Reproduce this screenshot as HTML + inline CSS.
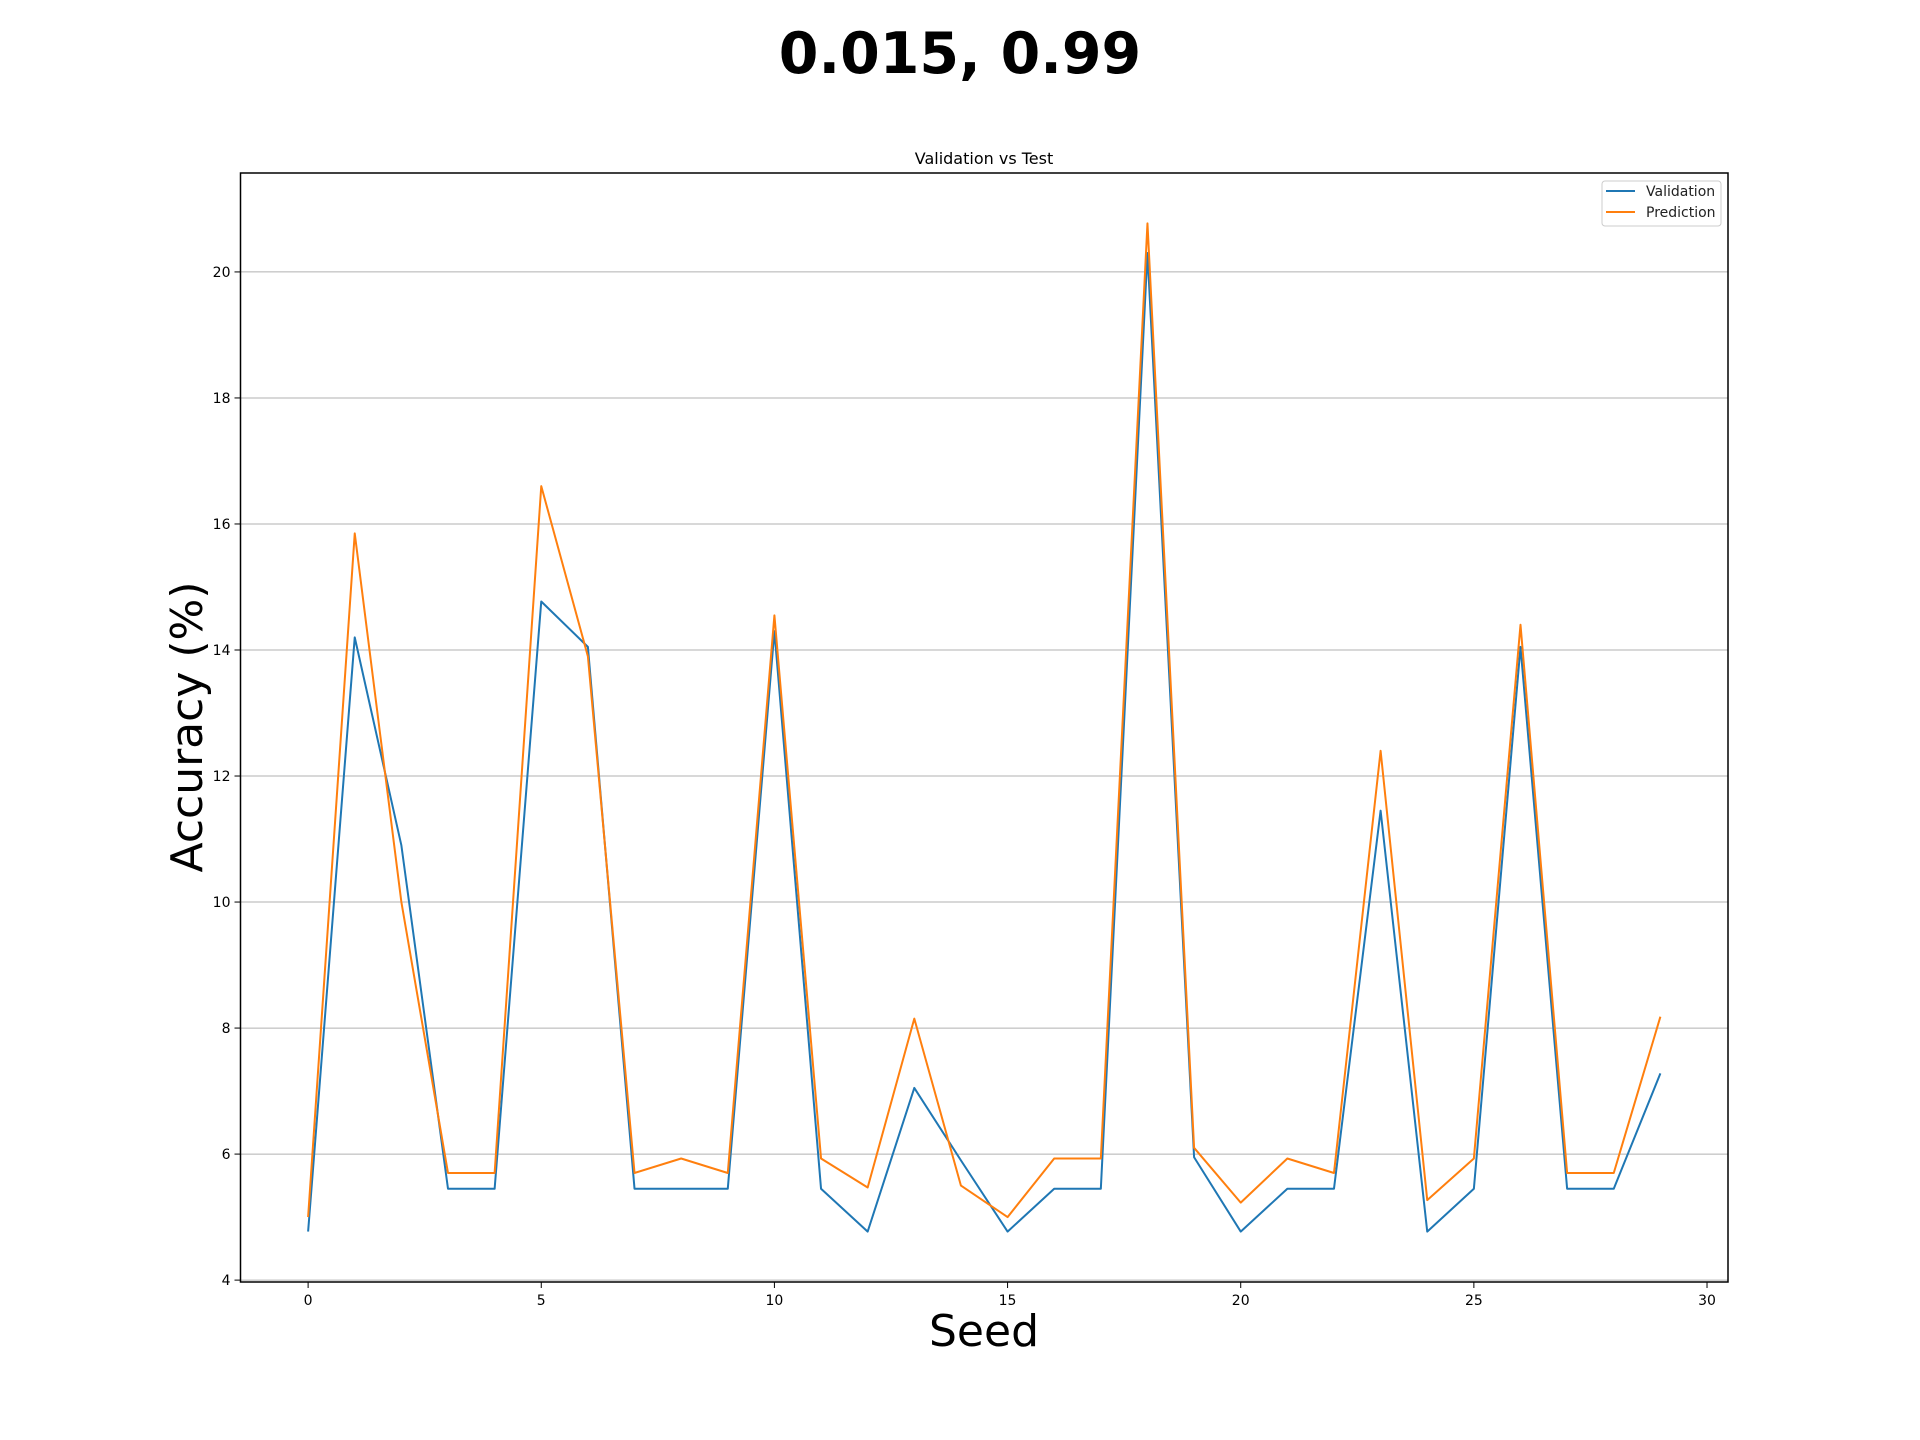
<!DOCTYPE html>
<html><head><meta charset="utf-8"><style>
html,body{margin:0;padding:0;background:#fff;}
svg{display:block;font-family:"DejaVu Sans","Liberation Sans",sans-serif;}
</style></head><body>
<svg id="chart" width="1920" height="1440" viewBox="0 0 1920 1440" xmlns="http://www.w3.org/2000/svg">
<rect width="1920" height="1440" fill="#fff"/>
<text x="960" y="73" text-anchor="middle" font-size="57" font-weight="bold">0.015, 0.99</text>
<text x="984" y="164" text-anchor="middle" font-size="16">Validation vs Test</text>
<g id="grid"></g>
<g id="ticks"></g>
<g id="series"></g>
<rect x="240.5" y="173" width="1487.5" height="1109" fill="none" stroke="#000" stroke-width="1.5"/>
<text x="984" y="1346" text-anchor="middle" font-size="44">Seed</text>
<text transform="translate(202,727) rotate(-90)" text-anchor="middle" font-size="44">Accuracy (%)</text>
<g>
<rect x="1602" y="181" width="119" height="45" rx="3" fill="#fff" fill-opacity="0.8" stroke="#ccc" stroke-width="1"/>
<line x1="1606" y1="191" x2="1635" y2="191" stroke="#1f77b4" stroke-width="2"/>
<text x="1646" y="196" font-size="14" fill="#222">Validation</text>
<line x1="1606" y1="212" x2="1635" y2="212" stroke="#ff7f0e" stroke-width="2"/>
<text x="1646" y="217" font-size="14" fill="#222">Prediction</text>
</g>
</svg>
<script>
const seeds = [0,1,2,3,4,5,6,7,8,9,10,11,12,13,14,15,16,17,18,19,20,21,22,23,24,25,26,27,28,29];
const validation = [4.77,14.2,10.9,5.45,5.45,14.77,14.05,5.45,5.45,5.45,14.3,5.45,4.77,7.05,5.9,4.77,5.45,5.45,20.3,5.95,4.77,5.45,5.45,11.45,4.77,5.45,14.05,5.45,5.45,7.28];
const prediction = [5.0,15.85,10.0,5.7,5.7,16.6,13.9,5.7,5.93,5.7,14.55,5.93,5.47,8.15,5.5,5.0,5.93,5.93,20.77,6.1,5.23,5.93,5.7,12.4,5.27,5.93,14.4,5.7,5.7,8.18];
const xTicks = [0,5,10,15,20,25,30];
const yTicks = [4,6,8,10,12,14,16,18,20];

const NS = 'http://www.w3.org/2000/svg';
const L = 240.5, R = 1728, T = 173, B = 1282;
const xMin = -1.45, xMax = 30.45, yMin = 3.97, yMax = 21.57;
function sx(v){ return L + (v - xMin) / (xMax - xMin) * (R - L); }
function sy(v){ return B - (v - yMin) / (yMax - yMin) * (B - T); }
function mk(tag, attrs, parent){
  const e = document.createElementNS(NS, tag);
  for (const k in attrs) e.setAttribute(k, attrs[k]);
  parent.appendChild(e);
  return e;
}
const grid = document.getElementById('grid');
const ticks = document.getElementById('ticks');
const series = document.getElementById('series');

yTicks.forEach(v => {
  const y = sy(v);
  const g = mk('line', {x1:L, x2:R, y1:y, y2:y, stroke:'#b0b0b0', 'stroke-width':1}, grid);
  
  
  const tk = mk('line', {x1:L-6, x2:L, y1:y, y2:y, stroke:'#000', 'stroke-width':1}, ticks);
  
  
  const t = mk('text', {x:L-10, y:y+5, 'text-anchor':'end', 'font-size':14}, ticks);
  
  
  t.textContent = v;
});
xTicks.forEach(v => {
  const x = sx(v);
  const tk = mk('line', {x1:x, x2:x, y1:B, y2:B+6, stroke:'#000', 'stroke-width':1}, ticks);
  
  
  const t = mk('text', {x:x, y:B+23, 'text-anchor':'middle', 'font-size':14}, ticks);
  
  
  t.textContent = v;
});
function line(vals, color, name){
  const pts = vals.map((v,i) => sx(seeds[i]).toFixed(2) + ',' + sy(v).toFixed(2)).join(' ');
  const p = mk('polyline', {points:pts, fill:'none', stroke:color, 'stroke-width':2, 'stroke-linejoin':'round'}, series);
  
  
}
line(validation, '#1f77b4', 'validation-line');
line(prediction, '#ff7f0e', 'prediction-line');
</script>
</body></html>
